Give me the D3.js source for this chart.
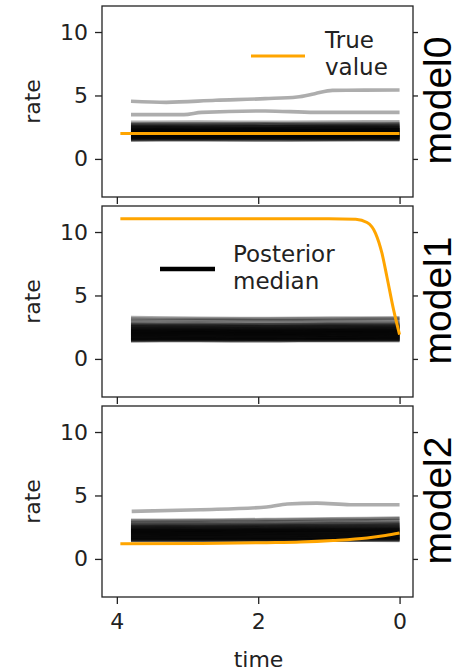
<!DOCTYPE html>
<html>
<head>
<meta charset="utf-8">
<script src="https://cdn.jsdelivr.net/npm/d3@7"></script>
<style>
  body { margin: 0; background: #fff; }
  svg { display: block; }
</style>
</head>
<body>
<figure style="margin:0"></figure>
<script>
/* eslint-disable no-undef */
const width = 459
const height = 672

// time grid shared by the posterior median lines
const tGrid = [3.8, 2.85, 1.9, 0.95, 0]

// model0 posterior medians (one row per replicate)
const m0Post = [
  [1.48, 1.50, 1.47, 1.49, 1.50], [1.55, 1.56, 1.57, 1.55, 1.56], [1.62, 1.61, 1.63, 1.64, 1.62],
  [1.68, 1.70, 1.69, 1.68, 1.70], [1.73, 1.74, 1.75, 1.76, 1.74], [1.79, 1.78, 1.80, 1.79, 1.81],
  [1.84, 1.85, 1.83, 1.86, 1.85], [1.88, 1.90, 1.89, 1.88, 1.91], [1.93, 1.94, 1.95, 1.94, 1.93],
  [1.98, 1.97, 1.99, 2.00, 1.98], [2.03, 2.04, 2.02, 2.03, 2.05], [2.08, 2.07, 2.09, 2.10, 2.08],
  [2.12, 2.14, 2.13, 2.12, 2.15], [2.18, 2.17, 2.19, 2.20, 2.18], [2.23, 2.24, 2.22, 2.24, 2.25],
  [2.28, 2.30, 2.29, 2.28, 2.31], [2.34, 2.33, 2.35, 2.36, 2.34], [2.40, 2.41, 2.39, 2.42, 2.41],
  [2.47, 2.46, 2.48, 2.49, 2.47], [2.55, 2.56, 2.54, 2.57, 2.58], [2.64, 2.63, 2.66, 2.65, 2.67],
  [2.75, 2.77, 2.76, 2.78, 2.79], [2.88, 2.90, 2.89, 2.91, 2.93], [1.85, 1.87, 1.86, 1.88, 1.87],
  [2.00, 2.01, 2.02, 2.00, 2.03], [2.15, 2.16, 2.14, 2.17, 2.16], [2.30, 2.28, 2.31, 2.32, 2.30],
  [1.70, 1.72, 1.71, 1.73, 1.72], [2.45, 2.44, 2.43, 2.46, 2.48], [1.58, 1.59, 1.60, 1.58, 1.61],
  [1.65, 1.66, 1.65, 1.67, 1.66], [1.76, 1.77, 1.76, 1.78, 1.79], [1.81, 1.82, 1.83, 1.82, 1.84],
  [1.91, 1.92, 1.91, 1.93, 1.92], [1.96, 1.95, 1.97, 1.96, 1.98], [2.05, 2.06, 2.05, 2.07, 2.06],
  [2.10, 2.11, 2.12, 2.11, 2.13], [2.20, 2.21, 2.20, 2.22, 2.23], [2.26, 2.25, 2.27, 2.26, 2.28],
  [2.36, 2.37, 2.38, 2.37, 2.39], [2.52, 2.51, 2.53, 2.54, 2.52], [2.60, 2.61, 2.60, 2.62, 2.63],
  [2.70, 2.71, 2.72, 2.70, 2.73], [1.52, 1.53, 1.52, 1.54, 1.55]
]
// model0 outlier replicates
const m0OutA_t = [3.8, 3.3, 2.6, 1.9, 1.45, 1.2, 0.95, 0.5, 0]
const m0OutA_v = [4.54, 4.46, 4.62, 4.75, 4.88, 5.14, 5.40, 5.42, 5.43]
const m0OutB_t = [3.8, 3.05, 2.8, 1.9, 1.2, 0]
const m0OutB_v = [3.49, 3.49, 3.67, 3.78, 3.67, 3.67]

// model1 posterior medians
const m1Post = [
  [1.42, 1.43, 1.42, 1.44, 1.43], [1.50, 1.49, 1.51, 1.50, 1.52], [1.57, 1.58, 1.56, 1.58, 1.57],
  [1.64, 1.63, 1.65, 1.64, 1.66], [1.70, 1.71, 1.70, 1.72, 1.71], [1.77, 1.76, 1.78, 1.77, 1.79],
  [1.83, 1.84, 1.82, 1.84, 1.83], [1.89, 1.90, 1.91, 1.89, 1.90], [1.95, 1.94, 1.96, 1.97, 1.95],
  [2.01, 2.02, 2.00, 2.02, 2.03], [2.07, 2.06, 2.08, 2.07, 2.09], [2.13, 2.14, 2.12, 2.15, 2.13],
  [2.19, 2.18, 2.20, 2.19, 2.21], [2.25, 2.26, 2.24, 2.27, 2.26], [2.32, 2.31, 2.33, 2.32, 2.34],
  [2.39, 2.40, 2.38, 2.41, 2.40], [2.47, 2.46, 2.48, 2.47, 2.49], [2.55, 2.56, 2.54, 2.57, 2.56],
  [2.64, 2.63, 2.65, 2.66, 2.64], [2.74, 2.75, 2.73, 2.76, 2.77], [2.86, 2.85, 2.87, 2.88, 2.86],
  [3.00, 3.02, 3.01, 3.03, 3.04], [3.14, 3.12, 3.13, 3.15, 3.16], [3.26, 3.20, 3.18, 3.22, 3.24],
  [1.60, 1.61, 1.59, 1.62, 1.60], [1.80, 1.81, 1.79, 1.82, 1.80], [2.00, 1.99, 2.01, 2.00, 2.02],
  [2.20, 2.21, 2.19, 2.22, 2.20], [2.40, 2.41, 2.39, 2.42, 2.41], [1.50, 1.52, 1.51, 1.50, 1.53],
  [1.46, 1.47, 1.46, 1.48, 1.47], [1.54, 1.55, 1.53, 1.55, 1.56], [1.67, 1.66, 1.68, 1.67, 1.69],
  [1.74, 1.73, 1.75, 1.74, 1.76], [1.86, 1.87, 1.85, 1.87, 1.86], [1.92, 1.93, 1.92, 1.94, 1.93],
  [2.04, 2.05, 2.03, 2.05, 2.06], [2.10, 2.11, 2.09, 2.12, 2.11], [2.16, 2.17, 2.15, 2.17, 2.18],
  [2.28, 2.29, 2.27, 2.29, 2.30], [2.35, 2.36, 2.34, 2.36, 2.37], [2.51, 2.52, 2.50, 2.53, 2.52],
  [2.60, 2.61, 2.59, 2.61, 2.62], [2.69, 2.70, 2.68, 2.71, 2.70]
]

// model2 posterior medians
const m2Post = [
  [1.45, 1.46, 1.45, 1.47, 1.46], [1.52, 1.51, 1.53, 1.52, 1.54], [1.59, 1.60, 1.58, 1.60, 1.61],
  [1.66, 1.65, 1.67, 1.66, 1.68], [1.72, 1.73, 1.72, 1.74, 1.75], [1.79, 1.78, 1.80, 1.81, 1.80],
  [1.85, 1.86, 1.85, 1.87, 1.88], [1.91, 1.92, 1.93, 1.92, 1.94], [1.98, 1.97, 1.99, 2.00, 2.01],
  [2.04, 2.05, 2.04, 2.06, 2.08], [2.10, 2.11, 2.12, 2.13, 2.14], [2.17, 2.16, 2.18, 2.20, 2.21],
  [2.23, 2.24, 2.25, 2.27, 2.28], [2.30, 2.31, 2.32, 2.34, 2.36], [2.37, 2.38, 2.40, 2.42, 2.44],
  [2.45, 2.46, 2.48, 2.51, 2.53], [2.54, 2.55, 2.57, 2.60, 2.63], [2.64, 2.65, 2.67, 2.71, 2.75],
  [2.75, 2.77, 2.79, 2.84, 2.88], [2.87, 2.89, 2.92, 2.97, 3.02], [2.98, 3.00, 3.04, 3.10, 3.16],
  [3.05, 3.06, 3.10, 3.16, 3.22], [1.62, 1.63, 1.62, 1.64, 1.65], [1.82, 1.83, 1.84, 1.85, 1.86],
  [2.02, 2.03, 2.04, 2.06, 2.07], [2.22, 2.23, 2.25, 2.27, 2.29], [2.42, 2.43, 2.45, 2.48, 2.50],
  [1.50, 1.51, 1.50, 1.52, 1.51], [1.55, 1.56, 1.56, 1.57, 1.58], [1.69, 1.70, 1.70, 1.71, 1.72],
  [1.75, 1.76, 1.76, 1.78, 1.79], [1.88, 1.89, 1.89, 1.91, 1.92], [1.94, 1.95, 1.96, 1.97, 1.98],
  [2.07, 2.08, 2.09, 2.10, 2.12], [2.13, 2.14, 2.15, 2.17, 2.18], [2.19, 2.20, 2.21, 2.23, 2.25],
  [2.27, 2.28, 2.29, 2.31, 2.33], [2.34, 2.35, 2.36, 2.39, 2.41], [2.50, 2.51, 2.53, 2.56, 2.58],
  [2.59, 2.60, 2.62, 2.65, 2.69], [2.70, 2.71, 2.73, 2.77, 2.81], [1.48, 1.48, 1.49, 1.50, 1.50]
]
const m2Out_t = [3.79, 2.82, 1.88, 1.59, 1.17, 0.7, 0]
const m2Out_v = [3.75, 3.88, 4.09, 4.33, 4.40, 4.27, 4.27]

// true values
const true0_t = [3.95, 0]
const true0_v = [2.0, 2.0]
const true1_t = [3.95, 2.0, 1.0, 0.62, 0.46, 0.34, 0.25, 0.18, 0.085, 0]
const true1_v = [11.05, 11.05, 11.05, 11.0, 10.75, 9.9, 8.35, 6.5, 3.88, 1.91]
const true2_t = [3.95, 2.8, 1.88, 1.4, 0.94, 0.46, 0.2, 0]
const true2_v = [1.20, 1.22, 1.28, 1.33, 1.45, 1.65, 1.85, 2.05]

const panelNames = ['model0', 'model1', 'model2']
const yTicks = [0, 5, 10]
const xTicks = [4, 2, 0]

const pairs = (ts, vs) => ts.map((t, i) => [t, vs[i]])

const panels = [
  { name: panelNames[0],
    post: m0Post.map(r => pairs(tGrid, r)).concat([pairs(m0OutA_t, m0OutA_v), pairs(m0OutB_t, m0OutB_v)]),
    truth: pairs(true0_t, true0_v) },
  { name: panelNames[1],
    post: m1Post.map(r => pairs(tGrid, r)),
    truth: pairs(true1_t, true1_v) },
  { name: panelNames[2],
    post: m2Post.map(r => pairs(tGrid, r)).concat([pairs(m2Out_t, m2Out_v)]),
    truth: pairs(true2_t, true2_v) }
]

const left = 102
const right = 413
const panelH = 191
const tops = [6, 206, 406]
const font = 'DejaVu Sans, sans-serif'

const svg = d3.select('figure').append('svg')
  .attr('width', width)
  .attr('height', height)

const x = d3.scaleLinear().domain([4.21, -0.19]).range([left, right])

panels.forEach((p, k) => {
  const top = tops[k]
  const y = d3.scaleLinear().domain([-3, 12.05]).range([top + panelH, top])
  const g = svg.append('g')

  const line = d3.line().x(d => x(d[0])).y(d => y(d[1])).curve(d3.curveMonotoneX)

  g.selectAll('path.post')
    .data(p.post)
    .join('path')
    .attr('class', 'post')
    .attr('d', line)
    .attr('fill', 'none')
    .attr('stroke', '#000')
    .attr('stroke-opacity', 0.32)
    .attr('stroke-width', 3.6)

  g.append('path')
    .attr('d', line(p.truth))
    .attr('fill', 'none')
    .attr('stroke', '#ffa500')
    .attr('stroke-width', 3)

  // axes
  const yl = g.append('g').attr('transform', `translate(${left},0)`)
    .call(d3.axisLeft(y).tickValues(yTicks).tickSize(7).tickPadding(7))
  const yr = g.append('g').attr('transform', `translate(${right},0)`)
    .call(d3.axisRight(y).tickValues(yTicks).tickSize(5).tickFormat(''))
  const xb = g.append('g').attr('transform', `translate(0,${top + panelH})`)
    .call(d3.axisBottom(x).tickValues(xTicks).tickSize(7).tickPadding(9)
      .tickFormat(k === 2 ? d3.format('d') : ''))

  ;[yl, yr, xb].forEach(a => {
    a.select('.domain').remove()
    a.selectAll('line').attr('stroke', '#222').attr('stroke-width', 1.3)
    a.selectAll('text').attr('font-family', font).attr('font-size', 22).attr('fill', '#222')
  })

  g.append('rect')
    .attr('x', left).attr('y', top)
    .attr('width', right - left).attr('height', panelH)
    .attr('fill', 'none').attr('stroke', '#222').attr('stroke-width', 1.3)

  g.append('text')
    .attr('transform', `translate(40,${top + panelH / 2}) rotate(-90)`)
    .attr('text-anchor', 'middle')
    .attr('font-family', font).attr('font-size', 22).attr('fill', '#222')
    .text('rate')

  g.append('text')
    .attr('transform', `translate(451,${top + panelH / 2 - 1}) rotate(-90)`)
    .attr('text-anchor', 'middle')
    .attr('font-family', 'Liberation Sans, Arial, sans-serif').attr('font-size', 39)
    .attr('fill', '#000')
    .text(p.name)
})

// legends
const leg = (x1, x2, ly, color, w, tx, lines, baseY) => {
  svg.append('line')
    .attr('x1', x1).attr('x2', x2).attr('y1', ly).attr('y2', ly)
    .attr('stroke', color).attr('stroke-width', w)
  const t = svg.append('text')
    .attr('font-family', font).attr('font-size', 23).attr('fill', '#222')
  lines.forEach((s, i) => {
    t.append('tspan').attr('x', tx).attr('y', baseY + i * 27).text(s)
  })
}
leg(251, 305, 56, '#ffa500', 3, 325, ['True', 'value'], 48)
leg(160, 215, 269, '#000', 4.5, 233, ['Posterior', 'median'], 262)

svg.append('text')
  .attr('x', (left + right) / 2 + 1).attr('y', 667)
  .attr('text-anchor', 'middle')
  .attr('font-family', font).attr('font-size', 22).attr('fill', '#222')
  .text('time')
</script>
</body>
</html>
